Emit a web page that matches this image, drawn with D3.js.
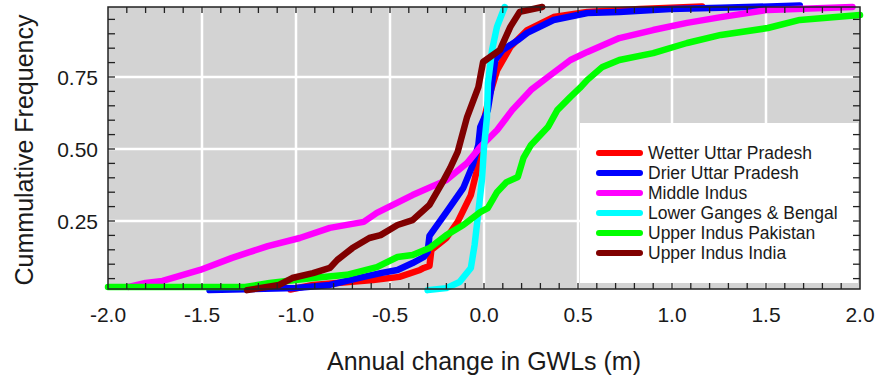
<!DOCTYPE html>
<html>
<head>
<meta charset="utf-8">
<script src="https://cdn.jsdelivr.net/npm/d3@7"></script>
<style>
  body { margin: 0; background: #fff; }
  text { font-family: "Liberation Sans", Arial, sans-serif; fill: #1a1a1a; }
</style>
</head>
<body>
<svg id="chart" width="876" height="380"></svg>
<script>
// [annual change (m), cumulative frequency]
var wetterUP = [[-1.03,0.012],[-0.91,0.028],[-0.59,0.045],[-0.45,0.056],[-0.34,0.080],[-0.32,0.087],[-0.29,0.094],[-0.28,0.149],
  [-0.20,0.191],[-0.14,0.247],[-0.07,0.340],[-0.04,0.420],[-0.02,0.514],[0.0,0.600],[0.03,0.688],[0.07,0.774],[0.14,0.854],
  [0.23,0.913],[0.37,0.958],[0.55,0.976],[0.83,0.986],[1.16,0.995]];
var drierUP = [[-1.46,0.010],[-1.0,0.017],[-0.82,0.028],[-0.64,0.056],[-0.55,0.069],[-0.46,0.080],[-0.38,0.104],[-0.32,0.125],
  [-0.30,0.142],[-0.29,0.198],[-0.20,0.281],[-0.11,0.365],[-0.06,0.444],[-0.03,0.514],[-0.02,0.576],[0.02,0.635],[0.04,0.715],
  [0.06,0.809],[0.10,0.844],[0.18,0.878],[0.23,0.903],[0.37,0.948],[0.55,0.972],[0.72,0.976],[0.99,0.986],[1.26,0.990],[1.68,0.998]];
var middleIndus = [[-1.89,0.021],[-1.80,0.035],[-1.71,0.042],[-1.51,0.080],[-1.34,0.122],[-1.15,0.163],[-0.98,0.191],[-0.82,0.226],
  [-0.64,0.247],[-0.57,0.278],[-0.38,0.340],[-0.20,0.392],[-0.09,0.451],[-0.02,0.507],[0.07,0.566],[0.15,0.635],[0.25,0.705],
  [0.34,0.750],[0.46,0.809],[0.55,0.837],[0.72,0.885],[0.90,0.913],[1.08,0.938],[1.26,0.958],[1.51,0.983],[1.96,0.993]];
var lowerGanges = [[-0.30,0.010],[-0.20,0.017],[-0.13,0.038],[-0.07,0.087],[-0.05,0.167],[-0.03,0.281],[-0.01,0.399],[0.0,0.507],
  [0.016,0.611],[0.021,0.729],[0.043,0.844],[0.069,0.924],[0.11,0.993]];
var upperIndusPak = [[-2.0,0.021],[-1.27,0.021],[-1.14,0.035],[-0.91,0.052],[-0.73,0.063],[-0.57,0.090],[-0.46,0.125],[-0.38,0.132],
  [-0.29,0.156],[-0.20,0.201],[-0.11,0.236],[-0.02,0.281],[0.02,0.295],[0.07,0.351],[0.12,0.385],[0.18,0.403],[0.21,0.469],
  [0.25,0.514],[0.34,0.576],[0.39,0.635],[0.46,0.681],[0.51,0.712],[0.55,0.740],[0.63,0.785],[0.72,0.809],[0.90,0.833],
  [1.08,0.868],[1.26,0.896],[1.51,0.920],[1.68,0.948],[2.0,0.965]];
var upperIndusInd = [[-1.26,0.010],[-1.09,0.028],[-1.02,0.052],[-0.91,0.069],[-0.82,0.087],[-0.78,0.115],[-0.70,0.156],[-0.61,0.191],
  [-0.55,0.201],[-0.46,0.236],[-0.38,0.253],[-0.29,0.306],[-0.22,0.385],[-0.18,0.434],[-0.14,0.490],[-0.09,0.611],[-0.03,0.715],
  [-0.005,0.802],[0.085,0.844],[0.14,0.924],[0.19,0.976],[0.31,0.993]];

var seriesNames = ["Wetter Uttar Pradesh","Drier Uttar Pradesh","Middle Indus","Lower Ganges & Bengal","Upper Indus Pakistan","Upper Indus India"];
var seriesData = [wetterUP, drierUP, middleIndus, lowerGanges, upperIndusPak, upperIndusInd];
var Colours = ["#ff0000","#0000ff","#ff00ff","#00ffff","#00ff00","#800000"];

var xTicks = [-2.0,-1.5,-1.0,-0.5,0.0,0.5,1.0,1.5,2.0];
var yTicks = [0.25,0.50,0.75];

var margin = {left: 108, right: 860, top: 7, bottom: 289};

var svg = d3.select("#chart");

var x = d3.scaleLinear().domain([-2,2]).range([margin.left,margin.right]);
var y = d3.scaleLinear().domain([0.0139,0.993]).range([margin.bottom,margin.top]);

svg.append("rect")
  .attr("x",margin.left).attr("y",margin.top)
  .attr("width",margin.right-margin.left).attr("height",margin.bottom-margin.top)
  .attr("fill","#d3d3d3");

// grid
svg.selectAll("line.vgrid").data(xTicks.slice(1,-1)).enter().append("line")
  .attr("x1",d=>x(d)).attr("x2",d=>x(d)).attr("y1",margin.top).attr("y2",margin.bottom)
  .attr("stroke","#fff").attr("stroke-width",2.5);
svg.selectAll("line.hgrid").data(yTicks).enter().append("line")
  .attr("y1",d=>y(d)).attr("y2",d=>y(d)).attr("x1",margin.left).attr("x2",margin.right)
  .attr("stroke","#fff").attr("stroke-width",2.5);

// legend box
var legX = 580, legY = 123;
svg.append("rect").attr("x",legX).attr("y",legY).attr("width",margin.right-2-legX).attr("height",283-legY).attr("fill","#fff");

// curves
var line = d3.line().x(d=>x(d[0])).y(d=>y(d[1]));
seriesData.forEach(function(s,i){
  svg.append("path").datum(s)
    .attr("fill","none")
    .attr("stroke",Colours[i])
    .attr("stroke-width",6.5)
    .attr("stroke-linejoin","round")
    .attr("stroke-linecap","round")
    .attr("d",line);
});

// minor ticks, all pointing in
var xMinor = d3.range(-19,20).map(d=>d/10);
var yMinor = d3.range(1,20).map(d=>d/20);
var tg = svg.append("g").attr("stroke","#222").attr("stroke-width",1.3);
xMinor.forEach(function(v){
  tg.append("line").attr("x1",x(v)).attr("x2",x(v)).attr("y1",margin.top).attr("y2",margin.top+6);
  tg.append("line").attr("x1",x(v)).attr("x2",x(v)).attr("y1",margin.bottom).attr("y2",margin.bottom-6);
});
yMinor.forEach(function(v){
  tg.append("line").attr("y1",y(v)).attr("y2",y(v)).attr("x1",margin.left).attr("x2",margin.left+7);
  tg.append("line").attr("y1",y(v)).attr("y2",y(v)).attr("x1",margin.right).attr("x2",margin.right-7);
});

svg.append("rect")
  .attr("x",margin.left).attr("y",margin.top)
  .attr("width",margin.right-margin.left).attr("height",margin.bottom-margin.top)
  .attr("fill","none").attr("stroke","#222").attr("stroke-width",1.5);

// legend
var leg = svg.append("g");
seriesNames.forEach(function(n,i){
  var cy = 153 + i*20;
  leg.append("line").attr("x1",599).attr("x2",640).attr("y1",cy).attr("y2",cy)
    .attr("stroke",Colours[i]).attr("stroke-width",6).attr("stroke-linecap","round");
  leg.append("text").attr("x",648).attr("y",cy+6).style("font-size","17.5px").text(n);
});

// tick labels
var fmt1 = d3.format(".1f");
svg.selectAll("text.xl").data(xTicks).enter().append("text")
  .attr("x",d=>x(d)).attr("y",322)
  .attr("text-anchor","middle").style("font-size","21px")
  .text(d=>fmt1(d).replace("\u2212","-"));
svg.selectAll("text.yl").data(yTicks).enter().append("text")
  .attr("x",98).attr("y",d=>y(d)).attr("dy","0.36em")
  .attr("text-anchor","end").style("font-size","21px")
  .text(d=>d3.format(".2f")(d));

// axis titles
svg.append("text").attr("x",484).attr("y",370).attr("text-anchor","middle")
  .style("font-size","25px").text("Annual change in GWLs (m)");
svg.append("text").attr("transform","translate(33,150) rotate(-90)")
  .attr("text-anchor","middle").style("font-size","25px").text("Cummulative Frequency");
</script>
</body>
</html>
